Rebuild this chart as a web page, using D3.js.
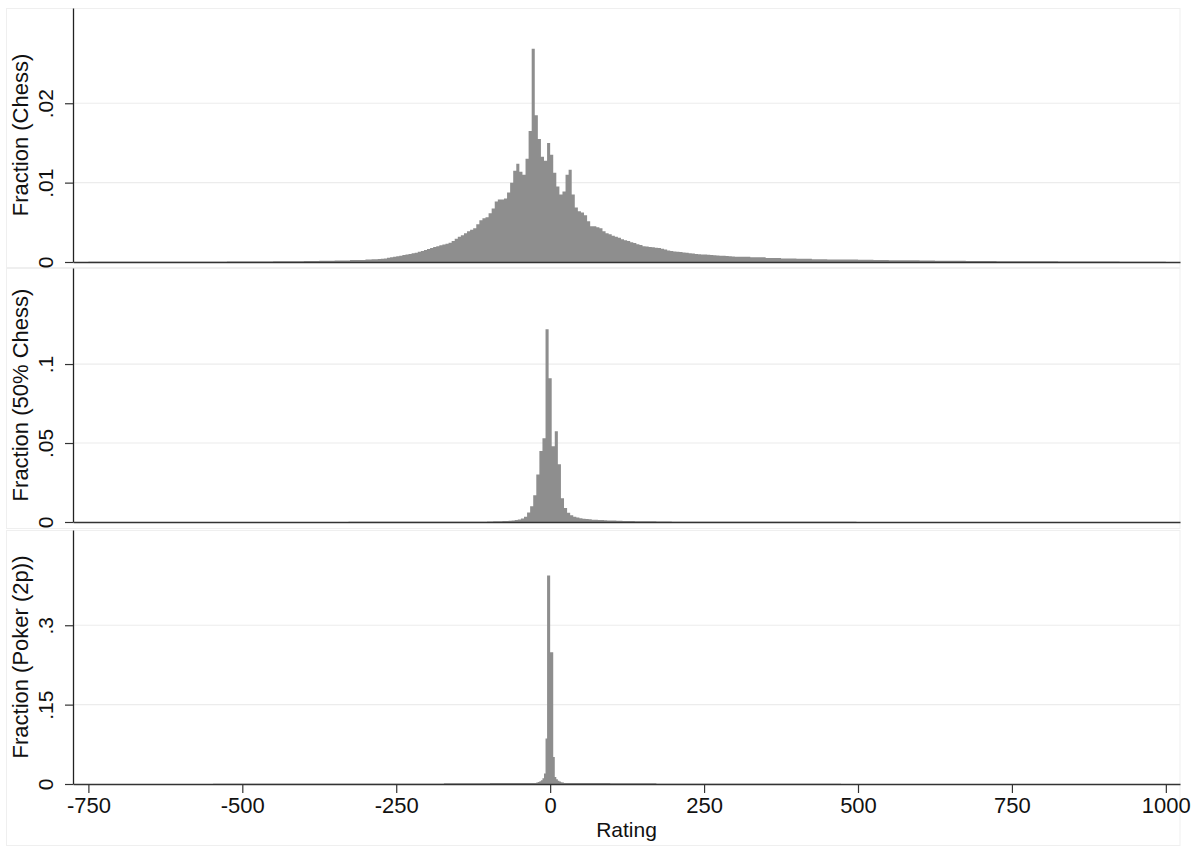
<!DOCTYPE html>
<html>
<head>
<meta charset="utf-8">
<script src="https://cdn.jsdelivr.net/npm/d3@7/dist/d3.min.js"></script>
<style>
  body { margin: 0; background: #fff; }
  svg { display: block; font-family: "Liberation Sans", Arial, sans-serif; }
</style>
</head>
<body>
<svg id="chart" width="1203" height="847"></svg>
<script>
// rating axis
var xTicks = [-750, -500, -250, 0, 250, 500, 750, 1000];
var xTickLabels = ["-750", "-500", "-250", "0", "250", "500", "750", "1000"];

// chess: tails in 25-point bins, core in 5-point bins
var chessLeftStart = -775, chessLeftWidth = 25;
var chessLeft = [.00001, .00002, .00002, .00003, .00003, .00003, .00003, .00004, .00004, .00004,
  .00005, .00006, .00007, .00009, .00011, .00013, .00016, .00020, .00026];
var chessCoreStart = -300, chessCoreWidth = 5;
var chessCore = [.00031, .00033, .00034, .00036, .00038, .00040, .00045, .00053, .00059, .00066,
  .00073, .00080, .00088, .00094, .00101, .00109, .00116, .00128, .00138, .00150,
  .00163, .00175, .00188, .00200, .00210, .00219, .00231, .00244, .00263, .00294,
  .00319, .00338, .00363, .00388, .00406, .00425, .00475, .00525, .00550, .00563,
  .00613, .00675, .00763, .00788, .00788, .00800, .00875, .01000, .01150, .01238,
  .01138, .01100, .01300, .01650, .02688, .01850, .01550, .01325, .01275, .01500,
  .01350, .01125, .00950, .00850, .00888, .01100, .01163, .00850, .00688, .00638,
  .00625, .00588, .00513, .00450, .00450, .00438, .00425, .00388, .00363, .00350,
  .00331, .00319, .00306, .00288, .00275, .00263, .00250, .00238, .00225, .00213,
  .00200, .00195, .00190, .00185, .00180, .00175, .00168, .00158, .00145, .00138,
  .00133, .00128, .00125, .00119, .00115, .00110, .00106, .00101, .00098, .00094,
  .00093, .00090, .00088, .00085, .00083, .00080, .00078, .00075, .00073, .00070];
var chessRightStart = 300, chessRightWidth = 25;
var chessRight = [.00066, .00060, .00051, .00044, .00040, .00036, .00033, .00031, .00029, .00025,
  .00023, .00021, .00019, .00017, .00015, .00013, .00012, .00011, .00009, .00009,
  .00008, .00007, .00006, .00006, .00005, .00004, .00004, .00003];

// 50% chess
var halfLeftStart = -777.5, halfLeftWidth = 75;
var halfLeft = [.00003, .00003, .00004, .00004, .00005, .00006, .00008, .00012, .00020];
var halfCoreStart = -102.5, halfCoreWidth = 5;
var halfCore = [.0003, .0003, .0004, .0004, .0005, .0006, .0007, .0008, .0010, .0012,
  .0016, .0022, .0034, .0060, .0100, .0170, .0300, .0450, .0530, .1220,
  .0910, .0480, .0575, .0365, .0150, .0088, .0058, .0042, .0033, .0028,
  .0024, .0021, .0019, .0017, .0015, .0014, .0013, .0012, .0011, .0010,
  .0010, .0009, .0008, .0008, .0007, .0007, .0006, .0006, .0005, .0005,
  .0005, .0004, .0004, .0004, .0004, .0003, .0003, .0003, .0003, .0003];
var halfRightStart = 197.5, halfRightWidth = 75;
var halfRight = [.00020, .00014, .00010, .00008, .00007, .00006, .00005, .00004, .00004, .00003, .00003];

// poker (2p)
var pokerLeftStart = -772.5, pokerLeftWidth = 75;
var pokerLeft = [.0002, .0002, .0002, .0003, .0003, .0004, .0005, .0006, .0012, .0020];
var pokerCoreStart = -22.5, pokerCoreWidth = 2.5;
var pokerCore = [.0030, .0040, .0050, .0070, .0110, .0200, .0860, .3940, .3940, .2490,
  .2490, .0510, .0130, .0090, .0060, .0045, .0035, .0028];
var pokerRightStart = 22.5, pokerRightWidth = 75;
var pokerRight = [.0020, .0012, .0005, .0004, .0003, .0003, .0002, .0002, .0002, .0002, .0001, .0001, .0001];

// y axes
var chessTicks = [0, .01, .02], chessTickLabels = ["0", ".01", ".02"];
var halfTicks = [0, .05, .1], halfTickLabels = ["0", ".05", ".1"];
var pokerTicks = [0, .15, .3], pokerTickLabels = ["0", ".15", ".3"];

const makeBins = (start, width, values) => {
    return values.map(function (v, i) { return {x0: start + i * width, x1: start + (i + 1) * width, v: v}; });
};

var panels = [
    {title: "Fraction (Chess)", top: 8, bottom: 262, max: 0.032, ticks: chessTicks, labels: chessTickLabels,
     bins: [].concat(makeBins(chessLeftStart, chessLeftWidth, chessLeft),
                     makeBins(chessCoreStart, chessCoreWidth, chessCore),
                     makeBins(chessRightStart, chessRightWidth, chessRight))},
    {title: "Fraction (50% Chess)", top: 268, bottom: 522, max: 0.1608, ticks: halfTicks, labels: halfTickLabels,
     bins: [].concat(makeBins(halfLeftStart, halfLeftWidth, halfLeft),
                     makeBins(halfCoreStart, halfCoreWidth, halfCore),
                     makeBins(halfRightStart, halfRightWidth, halfRight))},
    {title: "Fraction (Poker (2p))", top: 530, bottom: 784, max: 0.48, ticks: pokerTicks, labels: pokerTickLabels,
     bins: [].concat(makeBins(pokerLeftStart, pokerLeftWidth, pokerLeft),
                     makeBins(pokerCoreStart, pokerCoreWidth, pokerCore),
                     makeBins(pokerRightStart, pokerRightWidth, pokerRight))}
];

var svg = d3.select("#chart");
var left = 73, right = 1180;
var xScale = d3.scaleLinear().domain([-775, 1023]).range([left, right]);

// faint panel frames
var frames = [[8, 267], [268, 528], [530, 845]];
svg.selectAll("rect.frame")
    .data(frames)
    .enter()
    .append("rect")
    .attr("class", "frame")
    .attr("x", 6.5)
    .attr("y", function (d) { return d[0] + 0.5; })
    .attr("width", right - 6.5)
    .attr("height", function (d) { return d[1] - d[0]; })
    .attr("fill", "none")
    .attr("stroke", "#efefef");

panels.forEach(function (p, idx) {
    var yScale = d3.scaleLinear().domain([0, p.max]).range([p.bottom, p.top]);
    var g = svg.append("g");

    // gridlines
    g.selectAll("line.grid")
        .data(p.ticks.filter(function (t) { return t > 0; }))
        .enter()
        .append("line")
        .attr("x1", left).attr("x2", right)
        .attr("y1", function (d) { return yScale(d); })
        .attr("y2", function (d) { return yScale(d); })
        .attr("stroke", "#ececec")
        .attr("stroke-width", 1.2);

    // histogram as one stepped area so neighbouring bins don't leave seams
    var pts = p.bins.map(function (b) { return [b.x0, b.v]; });
    var last = p.bins[p.bins.length - 1];
    pts.push([last.x1, last.v]);
    var area = d3.area()
        .curve(d3.curveStepAfter)
        .x(function (d) { return xScale(d[0]); })
        .y0(yScale(0))
        .y1(function (d) { return yScale(d[1]); });
    g.append("path")
        .datum(pts)
        .attr("d", area)
        .attr("fill", "#8e8e8e");

    // y axis
    var yAxis = g.append("g")
        .attr("transform", "translate(" + left + ",0)")
        .call(d3.axisLeft(yScale)
            .tickValues(p.ticks)
            .tickFormat(function (d, i) { return p.labels[i]; })
            .tickSize(8)
            .tickSizeOuter(0));
    yAxis.select(".domain").attr("stroke", "#222").attr("stroke-width", 1.3);
    yAxis.selectAll(".tick line").attr("stroke", "#333").attr("stroke-width", 1.2);
    yAxis.selectAll(".tick text")
        .attr("x", null).attr("dy", null)
        .attr("transform", "translate(-20,0) rotate(-90)")
        .attr("text-anchor", "middle")
        .attr("fill", "#111")
        .style("font-size", "21px");

    // x axis (labels only on the bottom panel)
    var isLast = idx === panels.length - 1;
    var xAxis = g.append("g")
        .attr("transform", "translate(0," + p.bottom + ")")
        .call(d3.axisBottom(xScale)
            .tickValues(isLast ? xTicks : [])
            .tickFormat(function (d, i) { return xTickLabels[i]; })
            .tickSize(9)
            .tickSizeOuter(0));
    xAxis.select(".domain").attr("stroke", "#333").attr("stroke-width", 1.4);
    xAxis.selectAll(".tick line").attr("stroke", "#333").attr("stroke-width", 1.2);
    xAxis.selectAll(".tick text")
        .attr("y", 13)
        .attr("fill", "#111")
        .style("font-size", "22px");

    // axis title
    g.append("text")
        .attr("transform", "translate(28," + ((p.top + p.bottom) / 2) + ") rotate(-90)")
        .attr("text-anchor", "middle")
        .attr("fill", "#111")
        .style("font-size", "22px")
        .text(p.title);
});

svg.append("text")
    .attr("x", (left + right) / 2)
    .attr("y", 837)
    .attr("text-anchor", "middle")
    .attr("fill", "#111")
    .style("font-size", "21px")
    .text("Rating");
</script>
</body>
</html>
